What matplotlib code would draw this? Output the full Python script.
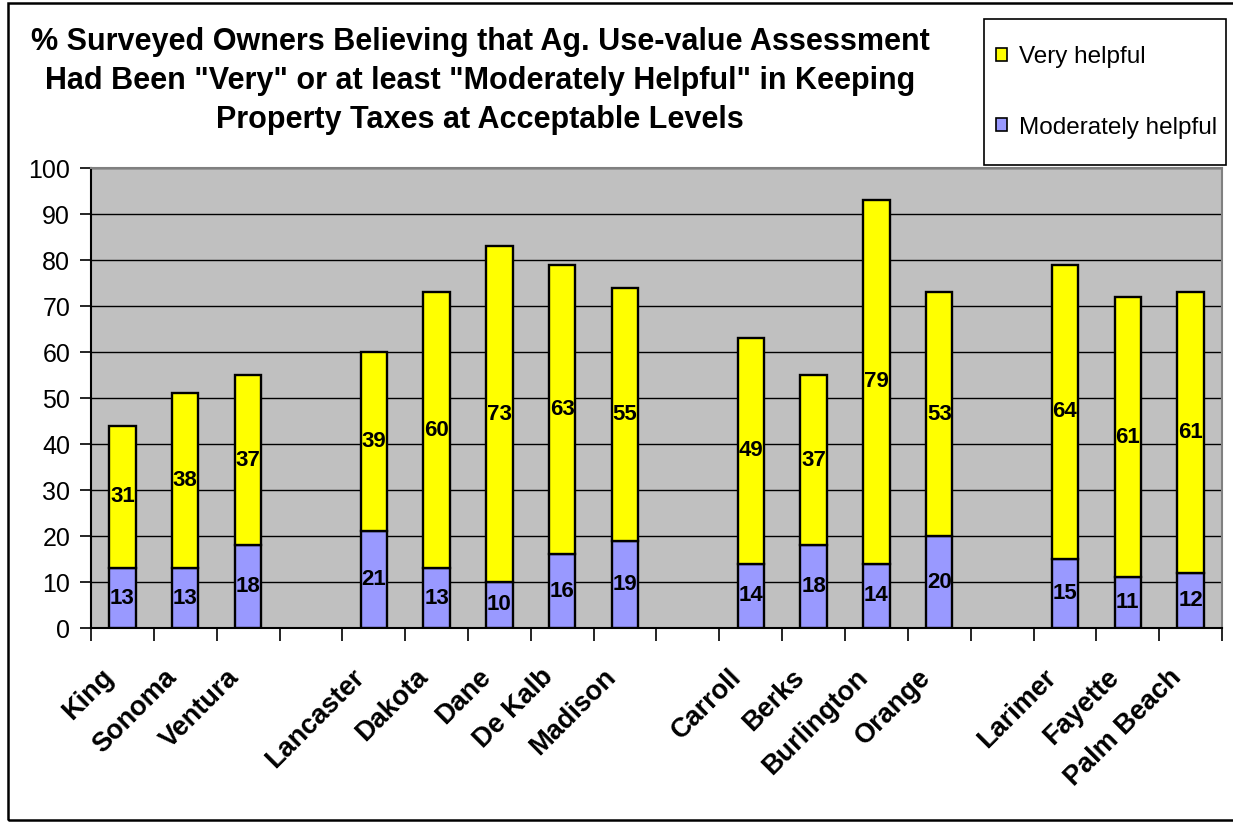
import matplotlib
matplotlib.use("Agg")
import matplotlib.pyplot as plt
from matplotlib.patches import Patch, Rectangle
from matplotlib.transforms import ScaledTranslation
import numpy as np

plt.rcParams['font.family'] = ['Liberation Sans', 'DejaVu Sans']

counties = ["King", "Sonoma", "Ventura",
            "Lancaster", "Dakota", "Dane", "De Kalb", "Madison",
            "Carroll", "Berks", "Burlington", "Orange",
            "Larimer", "Fayette", "Palm Beach"]
group = [0, 0, 0, 1, 1, 1, 1, 1, 2, 2, 2, 2, 3, 3, 3]
moderately = [13, 13, 18, 21, 13, 10, 16, 19, 14, 18, 14, 20, 15, 11, 12]
very = [31, 38, 37, 39, 60, 73, 63, 55, 49, 37, 79, 53, 64, 61, 61]

title = ('% Surveyed Owners Believing that Ag. Use-value Assessment\n'
         'Had Been "Very" or at least "Moderately Helpful" in Keeping\n'
         'Property Taxes at Acceptable Levels')

W, H = 1233, 822
fig = plt.figure(figsize=(W / 100, H / 100), dpi=100)
ax = fig.add_axes([91 / W, 1 - 628 / H, (1222 - 91) / W, (628 - 168) / H])
ax.set_facecolor('#C0C0C0')

pos = np.arange(len(counties)) + np.array(group)
mod = np.array(moderately)
vy = np.array(very)
bw = 0.42
ax.bar(pos, mod, width=bw, color='#9999FF', edgecolor='black', linewidth=1.7, zorder=3)
ax.bar(pos, vy, bottom=mod, width=bw, color='#FFFF00', edgecolor='black', linewidth=1.7, zorder=3)

for x, m, v in zip(pos, mod, vy):
    ax.text(x, m / 2, str(m), ha='center', va='center', fontsize=16,
            fontweight='bold', zorder=4)
    ax.text(x, m + v / 2, str(v), ha='center', va='center', fontsize=16,
            fontweight='bold', zorder=4)

nslots = len(counties) + max(group)
ax.set_xlim(-0.5, nslots - 0.5)
ax.set_ylim(0, 100)
ax.set_yticks(np.arange(0, 101, 10))
ax.yaxis.grid(True, color='black', linewidth=1.0, zorder=1)
ax.set_axisbelow(True)
ax.tick_params(axis='y', labelsize=18, length=8, width=1.2, pad=7)

ax.set_xticks(np.arange(-0.5, nslots, 1.0))
ax.set_xticklabels([])
ax.tick_params(axis='x', which='major', length=9, width=1.2)
ax.set_xticks(pos, minor=True)
ax.set_xticklabels(counties, minor=True, rotation=45, ha='right',
                   rotation_mode='anchor', fontsize=19.5, fontweight='bold')
ax.tick_params(axis='x', which='minor', length=0, pad=26)
shift = ScaledTranslation(-22 / 100, 0, fig.dpi_scale_trans)
for lab in ax.get_xticklabels(minor=True):
    lab.set_transform(lab.get_transform() + shift)

for s in ['top', 'right']:
    ax.spines[s].set_color('#808080')
    ax.spines[s].set_linewidth(1.5)
for s in ['left', 'bottom']:
    ax.spines[s].set_color('black')
    ax.spines[s].set_linewidth(1.5)

fig.text(480 / W, 1 - 81 / H, title, ha='center', va='center', fontsize=22,
         fontweight='bold', linespacing=1.37)

handles = [Patch(facecolor='#FFFF00', edgecolor='black', linewidth=1.2),
           Patch(facecolor='#9999FF', edgecolor='black', linewidth=1.2)]
leg = fig.legend(handles, ['Very helpful', 'Moderately helpful'],
                 loc='upper left', bbox_to_anchor=(996 / W, 1 - 46 / H),
                 fontsize=17.5, frameon=False,
                 handlelength=0.45, handleheight=0.45, handletextpad=0.5,
                 labelspacing=2.0, borderpad=0, borderaxespad=0)

fig.patches.append(Rectangle((984 / W, 1 - 165 / H), (1226 - 984) / W, (165 - 19) / H,
                             transform=fig.transFigure, fill=False,
                             edgecolor='black', linewidth=1.2))

fig.patches.append(Rectangle((8 / W, 2 / H), 1.0, 1 - 5 / H,
                             transform=fig.transFigure, fill=False,
                             edgecolor='black', linewidth=1.8))

fig.savefig('out.png', dpi=100)
